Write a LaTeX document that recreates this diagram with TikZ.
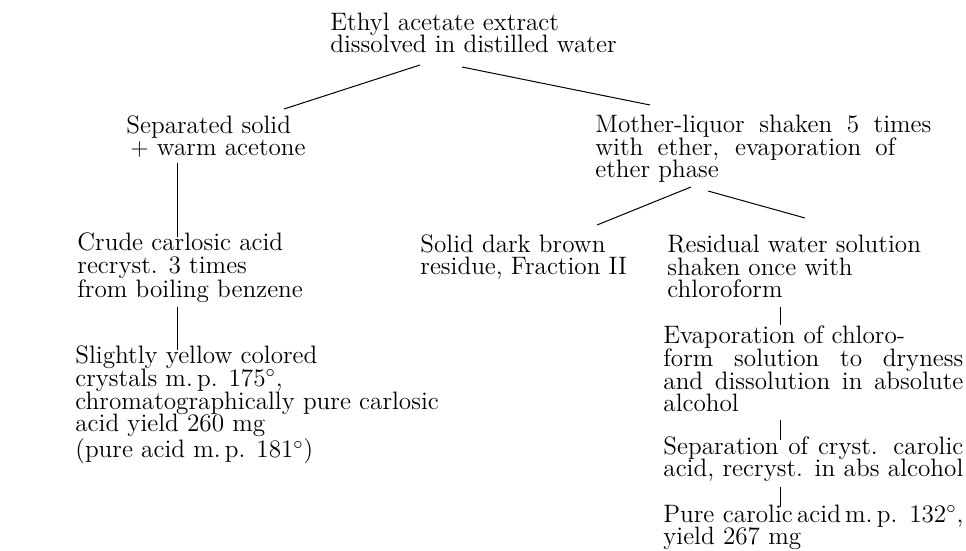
\documentclass[tikz,border=0pt]{standalone}
\usetikzlibrary{calc}
\begin{document}
\begin{tikzpicture}[x=0.5pt,y=-0.5pt,
  txt/.style={anchor=base west, inner sep=0pt, align=left,
    font=\fontsize{12.6}{11.4}\selectfont},
  conn/.style={line width=0.5pt}]
\useasboundingbox (0,0) rectangle (966,551);

% anchors are placed at the baseline of each block's last line
\node[txt] (top) at (330,53) {Ethyl acetate extract\\dissolved in distilled water};
\node[txt] (sep) at (126,156) {Separated solid\\\hspace{2pt}$+$ warm acetone};
\node[txt] (mother) at (595,178) {\makebox[168pt][s]{Mother-liquor shaken 5 times}\\\makebox[150pt][s]{with ether, evaporation of}\\ether phase};
\node[txt] (crude) at (77,298) {Crude carlosic acid\\recryst. 3 times\\from boiling benzene};
\node[txt] (slight) at (75,458) {Slightly yellow colored\\crystals m.\,p. 175$^\circ$,\\chromatographically pure carlosic\\acid yield 260 mg\\(pure acid m.\,p. 181$^\circ$)};
\node[txt] (solid) at (420,275) {Solid dark brown\\residue, Fraction II};
\node[txt] (resid) at (667,298) {Residual water solution\\shaken once with\\chloroform};
\node[txt] (evap) at (663,412) {Evaporation of chloro-\\\makebox[150pt][s]{form solution to dryness}\\\makebox[150pt][s]{and dissolution in absolute}\\alcohol};
\node[txt] (sepn) at (663,477) {\makebox[150pt][s]{Separation of cryst. carolic}\\\makebox[150pt][s]{acid, recryst. in abs alcohol}};
\node[txt] (pure) at (663,545) {\makebox[150pt][s]{Pure carolic\,acid\,m.\,p. 132$^\circ$,}\\yield 267 mg};

\draw[conn] ([shift={(90,12)}]top.base west) -- ([shift={(158,-47)}]sep.base west);
\draw[conn] ([shift={(132,14)}]top.base west) -- ([shift={(55,-73)}]mother.base west);
\draw[conn] ([shift={(51,7)}]sep.base west) -- ([shift={(100,-61)}]crude.base west);
\draw[conn] ([shift={(100,9)}]crude.base west) -- ([shift={(102,-108)}]slight.base west);
\draw[conn] ([shift={(96,9)}]mother.base west) -- ([shift={(177,-50)}]solid.base west);
\draw[conn] ([shift={(113,13)}]mother.base west) -- ([shift={(138,-80)}]resid.base west);
\draw[conn] ([shift={(113,9)}]resid.base west) -- ([shift={(117,-87)}]evap.base west);
\draw[conn] ([shift={(117,8)}]evap.base west) -- ([shift={(117,-37)}]sepn.base west);
\draw[conn] ([shift={(117,10)}]sepn.base west) -- ([shift={(117,-38)}]pure.base west);
\end{tikzpicture}
\end{document}
